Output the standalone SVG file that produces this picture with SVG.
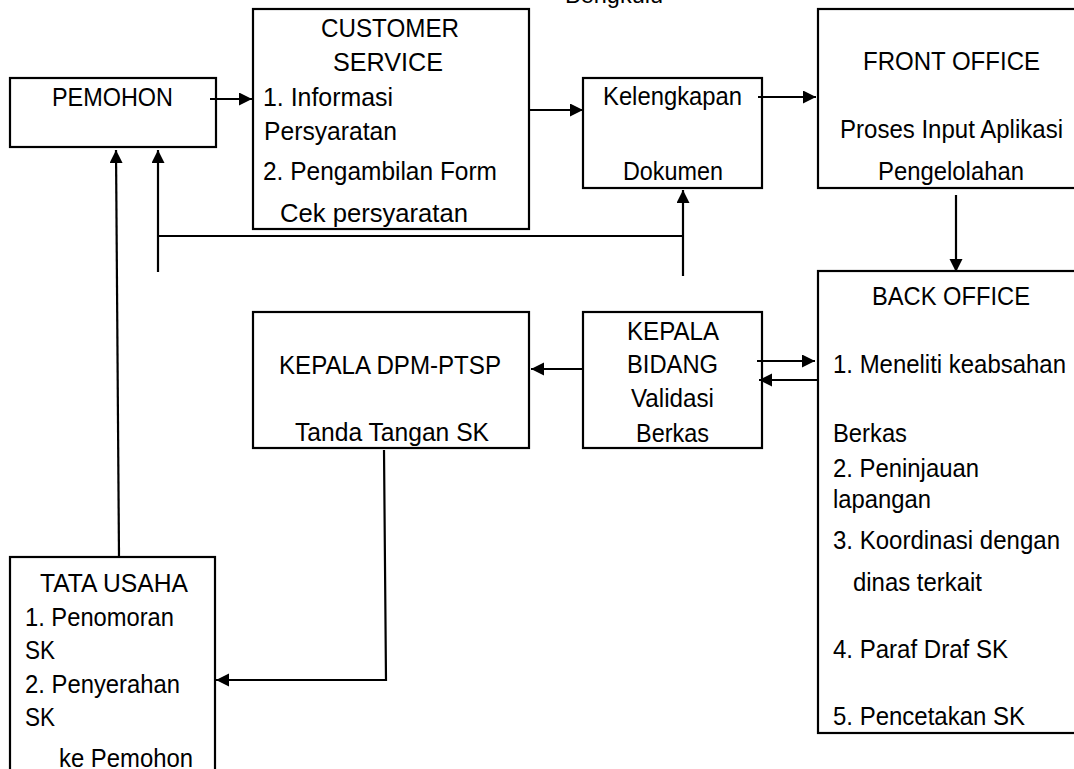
<svg xmlns="http://www.w3.org/2000/svg" width="1074" height="769" viewBox="0 0 1074 769">
<style>
.box{fill:#fff;stroke:#000;stroke-width:2.2}
.t{font-family:"Liberation Sans",Arial,sans-serif;font-size:26px;fill:#000}
.ln{fill:none;stroke:#000;stroke-width:2.2}
.ar{marker-end:url(#ah)}
</style>
<defs>
<marker id="ah" markerUnits="userSpaceOnUse" markerWidth="14" markerHeight="14" refX="13" refY="6.5" orient="auto">
<path d="M0,0 L13,6.5 L0,13 z" fill="#000"/>
</marker>
</defs>
<rect width="1074" height="769" fill="#fff"/>
<text x="565" y="3" style="font-family:'Liberation Sans',sans-serif;font-size:23px" textLength="98" lengthAdjust="spacingAndGlyphs">Bengkulu</text>

<g id="pemohon">
<rect class="box" x="10" y="78" width="206" height="69"/>
<text class="t" x="52" y="106" textLength="121" lengthAdjust="spacingAndGlyphs">PEMOHON</text>
</g>
<g id="customer-service">
<rect class="box" x="253" y="9" width="276" height="220"/>
<text class="t" x="321" y="37" textLength="138" lengthAdjust="spacingAndGlyphs">CUSTOMER</text>
<text class="t" x="333" y="71" textLength="110" lengthAdjust="spacingAndGlyphs">SERVICE</text>
<text class="t" x="263" y="106" textLength="130" lengthAdjust="spacingAndGlyphs">1. Informasi</text>
<text class="t" x="264" y="140" textLength="133" lengthAdjust="spacingAndGlyphs">Persyaratan</text>
<text class="t" x="263" y="180" textLength="234" lengthAdjust="spacingAndGlyphs">2. Pengambilan Form</text>
<text class="t" x="280" y="222" textLength="188" lengthAdjust="spacingAndGlyphs">Cek persyaratan</text>
</g>
<g id="kelengkapan">
<rect class="box" x="583" y="78" width="179" height="110"/>
<text class="t" x="603" y="105" textLength="139" lengthAdjust="spacingAndGlyphs">Kelengkapan</text>
<text class="t" x="623" y="180" textLength="100" lengthAdjust="spacingAndGlyphs">Dokumen</text>
</g>
<g id="front-office">
<rect class="box" x="818" y="9" width="270" height="179"/>
<text class="t" x="863" y="70" textLength="177" lengthAdjust="spacingAndGlyphs">FRONT OFFICE</text>
<text class="t" x="840" y="138" textLength="223" lengthAdjust="spacingAndGlyphs">Proses Input Aplikasi</text>
<text class="t" x="878" y="180" textLength="146" lengthAdjust="spacingAndGlyphs">Pengelolahan</text>
</g>
<g id="back-office">
<rect class="box" x="818" y="271" width="270" height="462"/>
<text class="t" x="872" y="305" textLength="158" lengthAdjust="spacingAndGlyphs">BACK OFFICE</text>
<text class="t" x="833" y="373" textLength="233" lengthAdjust="spacingAndGlyphs">1. Meneliti keabsahan</text>
<text class="t" x="833" y="442" textLength="74" lengthAdjust="spacingAndGlyphs">Berkas</text>
<text class="t" x="833" y="477" textLength="146" lengthAdjust="spacingAndGlyphs">2. Peninjauan</text>
<text class="t" x="833" y="508" textLength="98" lengthAdjust="spacingAndGlyphs">lapangan</text>
<text class="t" x="833" y="549" textLength="227" lengthAdjust="spacingAndGlyphs">3. Koordinasi dengan</text>
<text class="t" x="853" y="591" textLength="129" lengthAdjust="spacingAndGlyphs">dinas terkait</text>
<text class="t" x="833" y="658" textLength="175" lengthAdjust="spacingAndGlyphs">4. Paraf Draf SK</text>
<text class="t" x="833" y="725" textLength="192" lengthAdjust="spacingAndGlyphs">5. Pencetakan SK</text>
</g>
<g id="kepala-bidang">
<rect class="box" x="583" y="312" width="179" height="136"/>
<text class="t" x="627" y="340" textLength="92" lengthAdjust="spacingAndGlyphs">KEPALA</text>
<text class="t" x="627" y="373" textLength="91" lengthAdjust="spacingAndGlyphs">BIDANG</text>
<text class="t" x="631" y="407" textLength="83" lengthAdjust="spacingAndGlyphs">Validasi</text>
<text class="t" x="636" y="442" textLength="73" lengthAdjust="spacingAndGlyphs">Berkas</text>
</g>
<g id="kepala-dpm">
<rect class="box" x="253" y="312" width="276" height="136"/>
<text class="t" x="279" y="374" textLength="222" lengthAdjust="spacingAndGlyphs">KEPALA DPM-PTSP</text>
<text class="t" x="295" y="441" textLength="194" lengthAdjust="spacingAndGlyphs">Tanda Tangan SK</text>
</g>
<g id="tata-usaha">
<rect class="box" x="10" y="557" width="205" height="230"/>
<text class="t" x="40" y="592" textLength="148" lengthAdjust="spacingAndGlyphs">TATA USAHA</text>
<text class="t" x="25" y="626" textLength="149" lengthAdjust="spacingAndGlyphs">1. Penomoran</text>
<text class="t" x="25" y="659" textLength="30" lengthAdjust="spacingAndGlyphs">SK</text>
<text class="t" x="25" y="693" textLength="155" lengthAdjust="spacingAndGlyphs">2. Penyerahan</text>
<text class="t" x="25" y="726" textLength="30" lengthAdjust="spacingAndGlyphs">SK</text>
<text class="t" x="59" y="767" textLength="134" lengthAdjust="spacingAndGlyphs">ke Pemohon</text>
</g>

<g id="connectors">
<line class="ln ar" x1="210" y1="99" x2="252" y2="99"/>
<line class="ln ar" x1="529" y1="110" x2="583" y2="110"/>
<line class="ln ar" x1="758" y1="97" x2="816" y2="97"/>
<line class="ln ar" x1="956" y1="195" x2="956" y2="272"/>
<line class="ln ar" x1="757" y1="361" x2="815" y2="361"/>
<line class="ln ar" x1="817" y1="380" x2="759" y2="380"/>
<line class="ln ar" x1="583" y1="369" x2="531" y2="369"/>
<polyline class="ln ar" points="384,450 386,680 216,680"/>
<line class="ln ar" x1="119" y1="557" x2="116" y2="150"/>
<line class="ln ar" x1="158" y1="272" x2="158" y2="150"/>
<line class="ln" x1="158" y1="236" x2="683" y2="236"/>
<line class="ln ar" x1="683" y1="276" x2="683" y2="190"/>
</g>
</svg>
